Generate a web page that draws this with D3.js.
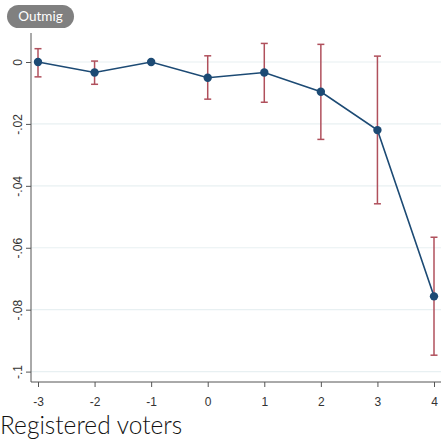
<!DOCTYPE html>
<html>
<head>
<meta charset="utf-8">
<script src="https://cdn.jsdelivr.net/npm/d3@7"></script>
<style>
  html, body { margin: 0; padding: 0; background: #fff; }
  svg { display: block; }
</style>
</head>
<body>
<svg id="chart" width="441" height="445"></svg>
<script>
// Event-time coefficients with 95% confidence intervals
const periods  = [-3, -2, -1, 0, 1, 2, 3, 4];
const estimate = [0.0000, -0.0034, 0.0000, -0.0051, -0.0034, -0.0096, -0.0220, -0.0757];
const ciLow    = [-0.0048, -0.0072, 0.0000, -0.0120, -0.0130, -0.0250, -0.0458, -0.0947];
const ciHigh   = [0.0043, 0.0003, 0.0000, 0.0020, 0.0060, 0.0057, 0.0019, -0.0566];
const yTicks   = [0, -0.02, -0.04, -0.06, -0.08, -0.1];
const yTickLabels = ["0", "-.02", "-.04", "-.06", "-.08", "-.1"];
const panelLabel = "Outmig";
const caption = "Registered voters";

const W = 441, H = 445;
const svg = d3.select("#chart");

const axisLeft = 31, axisBottom = 382, axisTop = 33;

const x = d3.scaleLinear().domain([-3, 4]).range([38, 434]);
const y = d3.scaleLinear().domain([0, -0.1]).range([62, 371.6]);

const navy = "#1c4a74";
const maroon = "#b0505c";

// gridlines
svg.append("g").selectAll("line").data(yTicks).join("line")
  .attr("x1", axisLeft).attr("x2", W)
  .attr("y1", d => y(d)).attr("y2", d => y(d))
  .attr("stroke", "#e8f0f2").attr("stroke-width", 1.2);

// y axis
const gy = svg.append("g").attr("transform", `translate(${axisLeft},0)`)
  .call(d3.axisLeft(y).tickValues(yTicks).tickSize(5).tickFormat((d, i) => yTickLabels[i]));
gy.select(".domain").remove();
gy.selectAll(".tick line").attr("stroke", "#555");
gy.selectAll(".tick text")
  .attr("font-family", "Liberation Sans, Arial, sans-serif")
  .attr("font-size", 12).attr("fill", "#333")
  .attr("text-anchor", "middle")
  .attr("transform", "translate(-9.5,0) rotate(-90)")
  .attr("x", 0).attr("y", 0).attr("dy", 0);
svg.append("line").attr("x1", axisLeft).attr("x2", axisLeft)
  .attr("y1", axisTop).attr("y2", axisBottom)
  .attr("stroke", "#555").attr("stroke-width", 1);

// x axis
const gx = svg.append("g").attr("transform", `translate(0,${axisBottom})`)
  .call(d3.axisBottom(x).tickValues(periods).tickSize(5).tickFormat(d => String(d)));
gx.select(".domain").remove();
gx.selectAll(".tick line").attr("stroke", "#555");
gx.selectAll(".tick text")
  .attr("font-family", "Liberation Sans, Arial, sans-serif")
  .attr("font-size", 12).attr("fill", "#333").attr("y", 15).attr("dy", "0.71em");
svg.append("line").attr("x1", axisLeft).attr("x2", W)
  .attr("y1", axisBottom).attr("y2", axisBottom)
  .attr("stroke", "#555").attr("stroke-width", 1);

const rows = periods.map((p, i) => ({ p, est: estimate[i], lo: ciLow[i], hi: ciHigh[i] }));

// confidence intervals
const ci = svg.append("g").attr("stroke", maroon).attr("stroke-width", 1.5).attr("fill", "none");
ci.selectAll("line.bar").data(rows).join("line").attr("class", "bar")
  .attr("x1", d => x(d.p)).attr("x2", d => x(d.p))
  .attr("y1", d => y(d.lo)).attr("y2", d => y(d.hi));
ci.selectAll("line.capHi").data(rows).join("line").attr("class", "capHi")
  .attr("x1", d => x(d.p) - 3.5).attr("x2", d => x(d.p) + 3.5)
  .attr("y1", d => y(d.hi)).attr("y2", d => y(d.hi));
ci.selectAll("line.capLo").data(rows).join("line").attr("class", "capLo")
  .attr("x1", d => x(d.p) - 3.5).attr("x2", d => x(d.p) + 3.5)
  .attr("y1", d => y(d.lo)).attr("y2", d => y(d.lo));

// connected estimates
svg.append("path").datum(rows)
  .attr("fill", "none").attr("stroke", navy).attr("stroke-width", 1.6)
  .attr("d", d3.line().x(d => x(d.p)).y(d => y(d.est)));
svg.append("g").selectAll("circle").data(rows).join("circle")
  .attr("cx", d => x(d.p)).attr("cy", d => y(d.est)).attr("r", 4.2)
  .attr("fill", navy);

// panel badge
const badge = svg.append("g");
badge.append("rect").attr("x", 7).attr("y", 5).attr("width", 67).attr("height", 23)
  .attr("rx", 11.5).attr("fill", "#808080");
badge.append("text").attr("x", 40.5).attr("y", 21)
  .attr("text-anchor", "middle").attr("fill", "#fff")
  .attr("font-family", "Lato, sans-serif").attr("font-size", 13.5)
  .text(panelLabel);

// caption
svg.append("text").attr("x", 0).attr("y", 434)
  .attr("font-family", "Lato, sans-serif").attr("font-size", 24.5)
  .attr("font-weight", 300).attr("fill", "#111")
  .text(caption);
</script>
</body>
</html>
